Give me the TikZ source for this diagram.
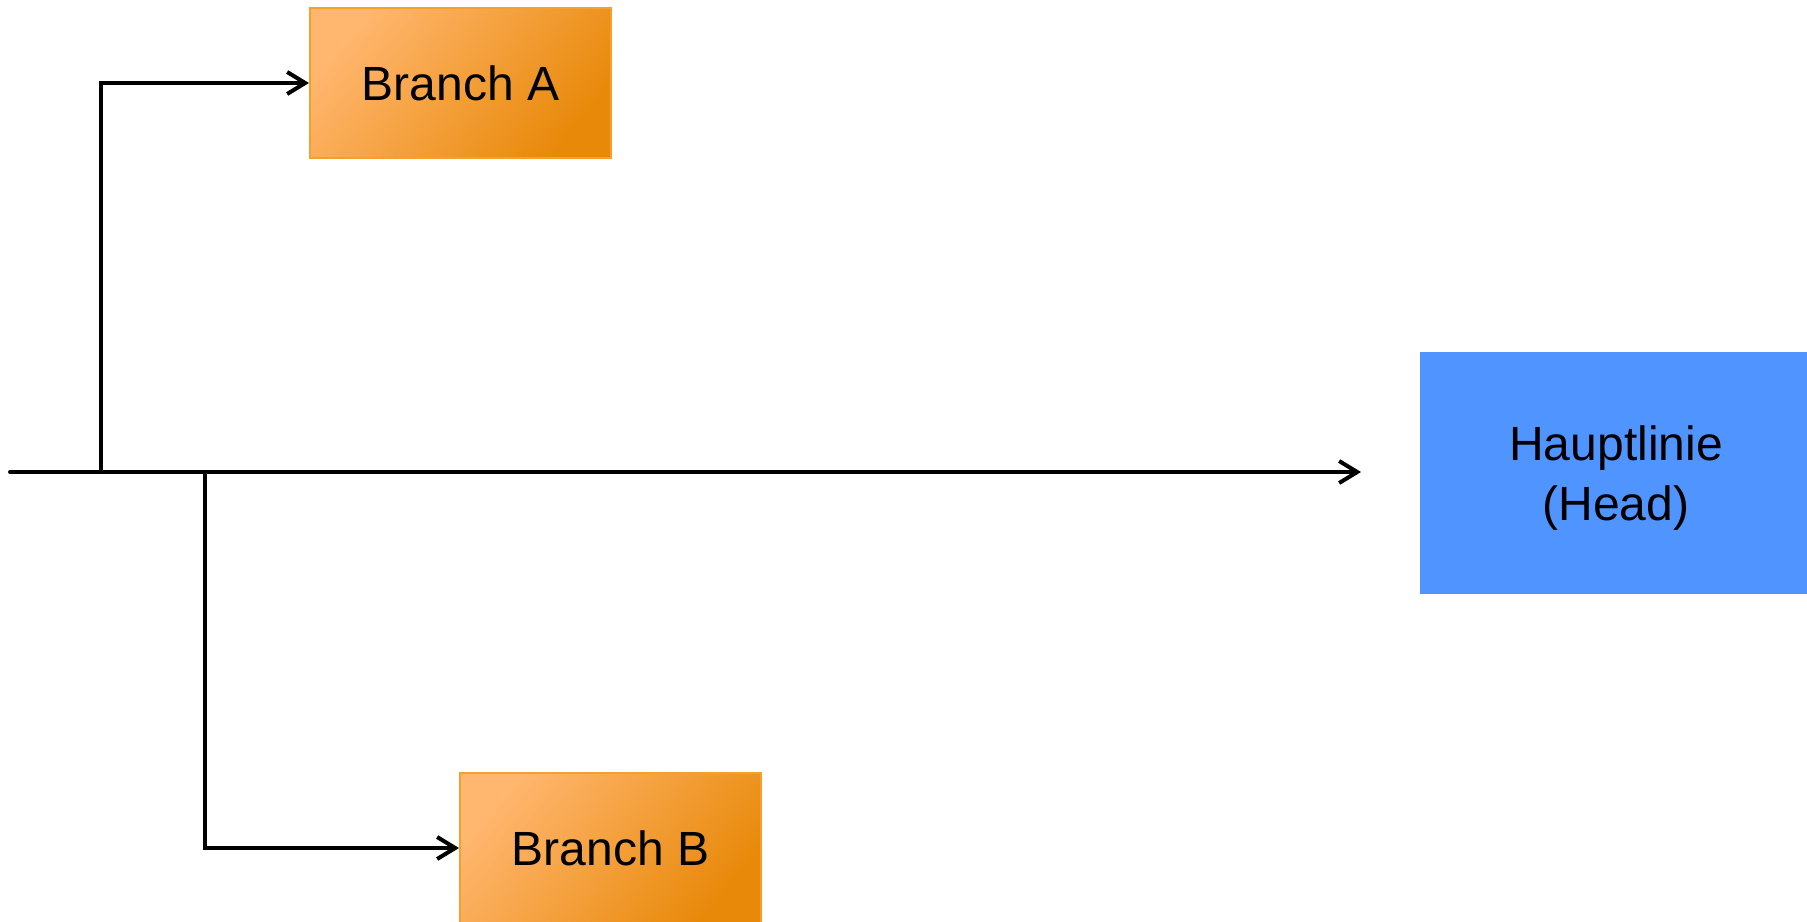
\documentclass[tikz,border=0pt]{standalone}
\usepackage{fontspec}
\setmainfont{Liberation Sans}
\usetikzlibrary{arrows.meta}

\definecolor{branchlight}{HTML}{FFB66E}
\definecolor{branchdark}{HTML}{E8890A}
\definecolor{branchedge}{HTML}{F5A02A}
\definecolor{headblue}{HTML}{4F94FF}

\tikzset{
branchbox/.style={draw=branchedge,line width=1pt,left color=branchlight,right color=branchdark,shading angle=50,
  minimum width=150.5pt,minimum height=75pt,inner sep=0pt,font=\fontsize{24}{28}\selectfont},
headbox/.style={fill=headblue,minimum width=196pt,minimum height=121pt,inner sep=0pt,align=center,
  text depth=0pt,font=\fontsize{24}{30}\selectfont},
flow/.style={line width=2pt,line cap=round,-{Straight Barb[length=9pt,width=11pt,line width=2pt]}}
}

\begin{document}
\begin{tikzpicture}[x=0.5pt,y=-0.5pt]
\useasboundingbox (0,0) rectangle (1807,921);

\node [branchbox] (brA) at (460.5,83) {Branch A};
\node [branchbox] (brB) at (610.5,848) {Branch B};
\node [headbox] (head) at (1616,473) {Hauptlinie\\(Head)};

\path (10,472) coordinate (start);
\path (1361,472) coordinate (mainend);
\path (101,472) coordinate (forkA);
\path (205,472) coordinate (forkB);

\draw [flow] (start) -- (mainend);
\draw [flow] (forkA) |- (brA.west);
\draw [flow] (forkB) |- (brB.west);

\end{tikzpicture}
\end{document}
